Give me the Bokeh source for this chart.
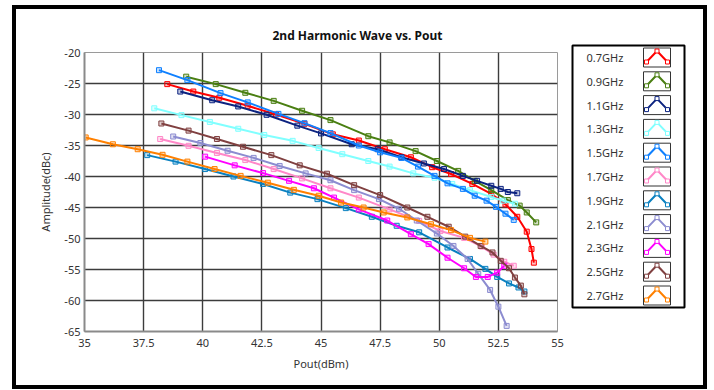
from bokeh.plotting import figure
from bokeh.layouts import row
from bokeh.models import FixedTicker, NumeralTickFormatter, Range1d
from bokeh.embed import file_html
from bokeh.resources import INLINE

# ---------------- data ----------------
labels = ["0.7GHz", "0.9GHz", "1.1GHz", "1.3GHz", "1.5GHz", "1.7GHz",
          "1.9GHz", "2.1GHz", "2.3GHz", "2.5GHz", "2.7GHz"]
colors = ["#ff0000", "#4a7f12", "#0c2380", "#80ffff", "#0f80ff", "#ff88c8",
          "#0a80c0", "#8c8cd0", "#ff00ff", "#804040", "#ff8000"]

pout_07 = [38.5, 39.6, 40.7, 41.9, 43.1, 44.3, 45.5, 46.6, 47.7, 48.8, 49.7, 50.5, 51.4, 52.2, 52.8, 53.3, 53.7, 53.9, 54.0]
amp_07 = [-25.1, -26.3, -27.3, -28.6, -30.0, -31.5, -33.2, -34.2, -35.6, -36.9, -38.5, -39.6, -41.2, -42.8, -44.5, -46.5, -48.9, -51.7, -53.9]

pout_09 = [39.3, 40.55, 41.8, 43.0, 44.2, 45.4, 47.0, 47.9, 49.0, 49.9, 50.8, 51.5, 52.2, 52.9, 53.4, 53.7, 54.1]
amp_09 = [-23.9, -25.1, -26.5, -27.8, -29.4, -30.9, -33.5, -34.5, -35.9, -37.5, -39.1, -40.7, -42.2, -43.8, -44.7, -45.8, -47.4]

pout_11 = [39.05, 40.4, 41.5, 42.7, 44.0, 45.0, 46.3, 47.4, 48.4, 49.35, 50.2, 51.0, 51.6, 52.2, 52.6, 52.9, 53.3]
amp_11 = [-26.3, -27.7, -28.7, -30.05, -31.8, -33.05, -34.8, -35.6, -36.9, -37.9, -38.8, -39.9, -40.7, -41.5, -42.0, -42.5, -42.7]

pout_13 = [37.95, 39.1, 40.3, 41.5, 42.6, 43.8, 44.9, 45.9, 47.0, 47.9, 48.9, 49.8, 50.55, 51.3, 52.2, 52.7, 53.2]
amp_13 = [-29.0, -30.1, -31.2, -32.3, -33.3, -34.25, -35.4, -36.4, -37.5, -38.4, -39.5, -40.2, -41.2, -42.2, -43.3, -43.9, -44.4]

pout_15 = [38.15, 39.35, 40.75, 41.9, 43.2, 44.3, 45.4, 46.6, 47.5, 48.4, 49.1, 49.8, 50.35, 51.0, 51.5, 52.0, 52.4, 52.8, 53.15]
amp_15 = [-22.85, -24.45, -26.55, -28.05, -29.9, -31.4, -33.0, -35.0, -36.1, -37.0, -38.4, -39.9, -41.1, -42.0, -43.1, -43.9, -44.9, -46.0, -47.0]

pout_17 = [38.2, 39.4, 40.6, 41.8, 43.0, 44.2, 45.4, 46.6, 47.9, 49.15, 50.05, 51.05, 51.8, 52.3, 52.75, 53.15]
amp_17 = [-33.95, -35.05, -36.2, -37.35, -38.8, -40.3, -41.9, -43.4, -45.3, -47.15, -48.8, -49.9, -51.3, -52.6, -53.75, -54.4]

pout_19 = [37.65, 38.85, 40.1, 41.3, 42.55, 43.7, 44.85, 46.05, 47.15, 48.2, 49.15, 50.35, 51.3, 51.95, 52.45, 52.95, 53.35, 53.6]
amp_19 = [-36.55, -37.6, -38.8, -40.0, -41.2, -42.6, -43.65, -45.1, -46.5, -47.95, -49.0, -51.45, -53.3, -54.9, -56.2, -57.25, -57.9, -58.55]

pout_21 = [38.75, 39.9, 41.05, 42.15, 43.25, 44.35, 45.4, 46.4, 47.45, 48.3, 49.05, 49.9, 50.6, 51.2, 51.65, 52.15, 52.5, 52.85]
amp_21 = [-33.55, -34.6, -35.85, -37.0, -38.3, -39.5, -40.6, -42.2, -43.65, -45.2, -47.1, -49.2, -51.2, -53.3, -55.7, -58.3, -61.0, -64.1]

pout_23 = [40.1, 41.35, 42.55, 43.65, 44.7, 45.55, 46.6, 47.8, 48.8, 49.55, 50.35, 51.05, 51.55, 52.05, 52.45, 52.75]
amp_23 = [-36.8, -38.2, -39.45, -40.7, -41.9, -43.4, -45.3, -47.1, -49.3, -50.9, -53.1, -54.8, -56.2, -56.2, -55.5, -54.4]

pout_25 = [38.25, 39.4, 40.6, 41.7, 42.9, 44.1, 45.25, 46.4, 47.5, 48.65, 49.5, 50.4, 51.1, 51.75, 52.25, 52.6, 52.95, 53.2, 53.45, 53.6]
amp_25 = [-31.45, -32.6, -33.95, -35.2, -36.55, -38.2, -39.55, -41.4, -43.0, -45.0, -46.5, -48.1, -49.7, -51.2, -52.25, -53.6, -54.8, -56.3, -57.6, -59.0]

pout_27 = [35.05, 36.2, 37.25, 38.3, 39.35, 40.5, 41.6, 42.75, 43.85, 44.9, 45.85, 46.8, 47.65, 48.65, 49.65, 50.5, 51.3, 51.95]
amp_27 = [-33.7, -34.8, -35.6, -36.5, -37.6, -38.8, -39.9, -41.0, -42.15, -43.1, -44.2, -45.0, -45.8, -46.6, -47.7, -48.65, -49.9, -50.5]

series_x = [pout_07, pout_09, pout_11, pout_13, pout_15, pout_17, pout_19, pout_21, pout_23, pout_25, pout_27]
series_y = [amp_07, amp_09, amp_11, amp_13, amp_15, amp_17, amp_19, amp_21, amp_23, amp_25, amp_27]

x_ticks = [35, 37.5, 40, 42.5, 45, 47.5, 50, 52.5, 55]
y_ticks = [-65, -60, -55, -50, -45, -40, -35, -30, -25, -20]

title_text = "2nd Harmonic Wave vs. Pout"
x_label = "Pout(dBm)"
y_label = "Amplitude(dBc)"

# ---------------- main plot ----------------
FONT = "Noto Sans"
H = 376

p = figure(width=549, height=H, x_range=(35, 55), y_range=(-65, -20),
           output_backend="svg", toolbar_location=None,
           min_border_left=68, min_border_right=8,
           min_border_top=43, min_border_bottom=54)
p.background_fill_color = "white"
p.border_fill_color = "white"
p.outline_line_color = "#9a9a9a"
p.outline_line_width = 1

p.title.text = title_text
p.title.align = "left"
p.title.offset = 188
p.title.text_font = FONT
p.title.text_font_size = "12px"
p.title.text_font_style = "bold"
p.title.text_color = "#111111"
p.title.vertical_align = "middle"
if "standoff" in p.title.properties():
    p.title.standoff = 16

for ax, ticks, lab in ((p.xaxis, x_ticks, x_label), (p.yaxis, y_ticks, y_label)):
    ax.ticker = FixedTicker(ticks=ticks)
    ax.formatter = NumeralTickFormatter(format="0.[0]")
    ax.axis_label = lab
    ax.axis_label_text_font = FONT
    ax.axis_label_text_font_style = "normal"
    ax.axis_label_text_font_size = "11px"
    ax.axis_label_text_color = "#333333"
    ax.major_label_text_font = FONT
    ax.major_label_text_font_size = "11px"
    ax.major_label_text_color = "#333333"
    ax.major_tick_in = 0
    ax.major_tick_out = 0
    ax.minor_tick_in = 0
    ax.minor_tick_out = 0
    ax.axis_line_color = "#8a8a8a"
    ax.axis_line_width = 2

p.xaxis.major_label_standoff = 7
p.xaxis.axis_label_standoff = 6
p.yaxis.major_label_standoff = 4
p.yaxis.axis_label_standoff = 8

for g in (p.xgrid, p.ygrid):
    g.grid_line_color = "#3c3c3c"
    g.grid_line_width = 1.4
p.xgrid.ticker = FixedTicker(ticks=x_ticks)
p.ygrid.ticker = FixedTicker(ticks=y_ticks)

for xs, ys, c in zip(series_x, series_y, colors):
    p.line(xs, ys, line_color=c, line_width=2)
    p.scatter(xs, ys, marker="square", size=5, line_color=c, line_width=1,
              fill_color=c, fill_alpha=0.25)

# ---------------- legend panel ----------------
# legend drawn in its own pixel-like coordinate system (page px, y downward)
LX0, LX1, LY0, LY1 = 572, 684, 45, 307
leg = figure(width=138, height=H, x_range=Range1d(LX0, LX1), y_range=Range1d(LY1, LY0),
             output_backend="svg", toolbar_location=None,
             min_border_left=7, min_border_right=19,
             min_border_top=36, min_border_bottom=78)
leg.axis.visible = False
leg.grid.visible = False
leg.outline_line_color = "black"
leg.outline_line_width = 2
leg.border_fill_color = "white"

ROW0, PITCH = 57, 23.8
row_y = [ROW0 + PITCH * i for i in range(len(labels))]

leg.text(x=[586] * len(labels), y=row_y, text=labels, text_align="left",
         text_baseline="middle", text_font_size="11px", text_color="#333333",
         text_font={"value": FONT})
leg.rect(x=[656.5] * len(labels), y=row_y, width=27, height=19,
         fill_color=None, line_color="#333333", line_width=1)
chev_x = [[646, 656.5, 667] for _ in labels]
chev_y = [[yc + 4.5, yc - 6.5, yc + 4.5] for yc in row_y]
leg.multi_line(xs=chev_x, ys=chev_y, line_color=colors, line_width=2)
mx, my, mc = [], [], []
for xs_, ys_, c in zip(chev_x, chev_y, colors):
    mx += xs_
    my += ys_
    mc += [c] * 3
leg.scatter(mx, my, marker="square", size=4, line_color=mc, fill_color="white", line_width=1)

for fig in (p, leg):
    if "frame_align" in fig.properties():
        fig.frame_align = False

layout = row(p, leg, margin=(5, 0, 0, 12),
             styles={"border": "4px solid black", "background": "white"})

open("out.html", "w").write(file_html(layout, INLINE))
